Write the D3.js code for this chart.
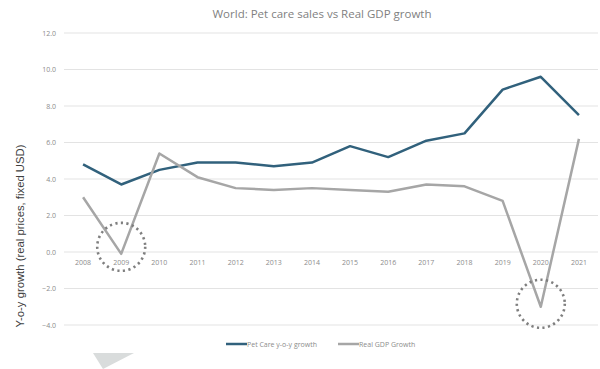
<!DOCTYPE html>
<html>
<head>
<meta charset="utf-8">
<script src="https://cdn.jsdelivr.net/npm/d3@7"></script>
<style>
  body { margin: 0; background: #fff; }
  svg { display: block; }
</style>
</head>
<body>
<svg id="chart"></svg>
<script>
// data
const years = ['2008','2009','2010','2011','2012','2013','2014','2015','2016','2017','2018','2019','2020','2021']
const petCare = [4.8, 3.7, 4.5, 4.9, 4.9, 4.7, 4.9, 5.8, 5.2, 6.1, 6.5, 8.9, 9.6, 7.5]
const realGdp = [3.0, -0.1, 5.4, 4.1, 3.5, 3.4, 3.5, 3.4, 3.3, 3.7, 3.6, 2.8, -3.0, 6.2]
const yTicks = [-4, -2, 0, 2, 4, 6, 8, 10, 12]
const highlightYears = ['2009', '2020']
const seriesNames = ['Pet Care y-o-y growth', 'Real GDP Growth']
const seriesColors = ['#31617c', '#a6a6a6']

let w = 600
let h = 369

let svg = d3.select('#chart').attr('width', w).attr('height', h)

let xScale = d3.scaleBand().domain(years).range([64, 598])
let yScale = d3.scaleLinear().domain([-4, 12]).range([325, 33])
let xMid = d => xScale(d) + xScale.bandwidth() / 2

// gridlines
svg.append('g')
  .selectAll('line')
  .data(yTicks)
  .enter()
  .append('line')
  .attr('x1', 64).attr('x2', 598)
  .attr('y1', d => yScale(d)).attr('y2', d => yScale(d))
  .attr('stroke', '#e3e3e3')
  .attr('stroke-width', 1)

// y axis labels
let yAxis = d3.axisLeft(yScale).tickValues(yTicks).tickFormat(d3.format('.1f')).tickSize(0).tickPadding(0)
svg.append('g')
  .attr('transform', 'translate(56,0)')
  .call(yAxis)
  .call(g => g.select('.domain').remove())
  .selectAll('text')
  .attr('fill', '#8c8c8c')
  .style('font-family', 'Open Sans, sans-serif')
  .style('font-size', '7px')

// x axis labels, sitting on the zero line
let xAxis = d3.axisBottom(xScale).tickSize(0).tickPadding(8)
svg.append('g')
  .attr('transform', 'translate(0,' + yScale(0) + ')')
  .call(xAxis)
  .call(g => g.select('.domain').remove())
  .selectAll('text')
  .attr('fill', '#8c8c8c')
  .style('font-family', 'Open Sans, sans-serif')
  .style('font-size', '7px')

// lines
let line = d3.line().x((d, i) => xMid(years[i])).y(d => yScale(d))
;[petCare, realGdp].forEach((s, k) => {
  svg.append('path')
    .datum(s)
    .attr('d', line)
    .attr('fill', 'none')
    .attr('stroke', seriesColors[k])
    .attr('stroke-width', 2.5)
    .attr('stroke-linejoin', 'round')
})

// dotted circles round the dips (hand-drawn, a bit off the points)
let circleShift = { '2009': -7, '2020': -3 }
svg.selectAll('circle.mark')
  .data(highlightYears)
  .enter()
  .append('circle')
  .attr('class', 'mark')
  .attr('cx', d => xMid(d))
  .attr('cy', d => yScale(realGdp[years.indexOf(d)]) + circleShift[d])
  .attr('r', 24)
  .attr('fill', 'none')
  .attr('stroke', '#7f7f7f')
  .attr('stroke-width', 2.6)
  .attr('stroke-dasharray', '2.2 3.4')

// title
svg.append('text')
  .attr('x', 322).attr('y', 18)
  .attr('text-anchor', 'middle')
  .attr('fill', '#7f7f7f')
  .style('font-family', 'Open Sans, sans-serif')
  .style('font-size', '11.5px')
  .text('World: Pet care sales vs Real GDP growth')

// y title
svg.append('text')
  .attr('transform', 'translate(24,236) rotate(-90)')
  .attr('text-anchor', 'middle')
  .attr('fill', '#404040')
  .style('font-family', 'Liberation Sans, Arial, sans-serif')
  .style('font-size', '11.3px')
  .text('Y-o-y growth (real prices, fixed USD)')

// legend
let legendX = [226, 338]
seriesNames.forEach((n, k) => {
  let g = svg.append('g').attr('transform', 'translate(' + legendX[k] + ',344)')
  g.append('line').attr('x1', 0).attr('x2', 21).attr('y1', 0).attr('y2', 0)
    .attr('stroke', seriesColors[k]).attr('stroke-width', 2.5)
  g.append('text').attr('x', 21).attr('y', 2.5)
    .attr('fill', '#8c8c8c')
    .style('font-family', 'Open Sans, sans-serif')
    .style('font-size', '7px')
    .text(n)
})

// grey arrow shape at the bottom left
svg.append('path')
  .attr('d', 'M93,353 L134,353 L103,369 Z')
  .attr('fill', '#d9dcdc')
</script>
</body>
</html>
